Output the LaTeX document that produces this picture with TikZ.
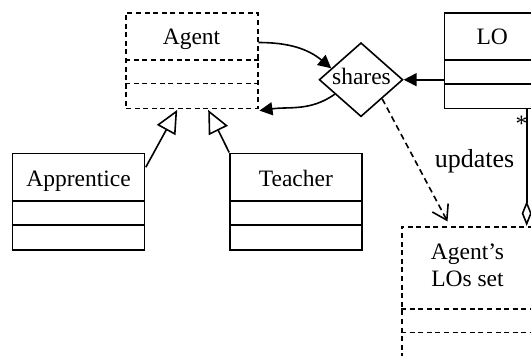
\documentclass[tikz,border=0pt]{standalone}
\usepackage{fontspec}
\setmainfont{Liberation Serif}
\usetikzlibrary{arrows.meta,shapes.geometric,calc}

\begin{document}
\begin{tikzpicture}[x=1pt,y=-1pt,
  font=\fontsize{23.5}{27}\selectfont,
  line width=1.6pt,
  classbox/.style={draw,rectangle,inner sep=0pt},
  dashline/.style={dash pattern=on 5pt off 3.6pt},
  relarrow/.style={-{Triangle[length=13pt,width=13pt]}},
  genarrow/.style={-{Triangle[open,length=23pt,width=21pt]}},
  deparrow/.style={dash pattern=on 6pt off 4pt,-{Straight Barb[length=14pt,width=18pt]}},
  aggarrow/.style={-{Diamond[open,length=25pt,width=10pt]}},
  txt/.style={inner sep=0pt,anchor=base}]
\useasboundingbox (0,0) rectangle (531,356);
\fill[white] (0,0) rectangle (531,356);
\clip (0,0) rectangle (531,356);

% class boxes
\node[classbox,dashline,minimum width=131.7pt,minimum height=95.6pt] (agent) at (191.85,60.5) {};
\node[classbox,minimum width=132pt,minimum height=96.7pt] (appr) at (78.3,201.65) {};
\node[classbox,minimum width=131.7pt,minimum height=96.7pt] (teach) at (295.85,201.65) {};
\node[classbox,minimum width=95.7pt,minimum height=95.6pt] (lo) at (492.15,60.5) {};
\node[classbox,dashline,minimum width=132.3pt,minimum height=133.3pt] (set) at (467.85,293.35) {};
\node[diamond,draw,inner sep=0pt,minimum width=83.7pt,minimum height=74pt] (shares) at (361,79.7) {};

% compartment dividers
\foreach \d in {48,71.6}
  \draw[dashline] ($(agent.north west)+(0,\d)$) -- ($(agent.north east)+(0,\d)$);
\foreach \d in {48.4,72.7} {
  \draw ($(appr.north west)+(0,\d)$) -- ($(appr.north east)+(0,\d)$);
  \draw ($(teach.north west)+(0,\d)$) -- ($(teach.north east)+(0,\d)$);
}
\foreach \d in {48,72.3}
  \draw ($(lo.north west)+(0,\d)$) -- ($(lo.north east)+(0,\d)$);
\foreach \d in {83.3,106.6}
  \draw[dashline] ($(set.north west)+(0,\d)$) -- ($(set.north east)+(0,\d)$);

% names
\node[txt] (agentname) at (191.5,45) {Agent};
\node[txt] (apprname) at (78.5,186) {Apprentice};
\node[txt] (teachname) at (295.85,186) {Teacher};
\node[txt] (loname) at (492.2,45) {LO};
\node[txt] (sharesname) at (361.5,84.3) {shares};
\node[txt,align=center] (setname) at (467.5,286) {Agent’s\\LOs set};
\node[txt,anchor=base west,font=\fontsize{26}{30}\selectfont] (updlabel) at (434,167) {updates};
\node[txt] (mult) at (521.5,131) {*};

% generalisations
\draw[genarrow] ($(appr.north east)+(0.7,14.7)$) -- ($(agent.south west)+(52,0.8)$);
\draw[genarrow] (teach.north west) -- ($(agent.south west)+(83,0.8)$);

% shares relation
\draw[relarrow] (lo.west |- shares.east) -- (shares.east);
\draw[relarrow] ($(agent.north east)+(0,30.6)$) to[out=0,in=140] (shares.159);
\draw[relarrow] (shares.209) to[out=215,in=8] ($(agent.south east)+(1,1.5)$);

% updates dependency
\coordinate (updend) at ($(set.north west)+(46.6,-4.5)$);
\draw[deparrow] (shares.318) -- (updend);

% aggregation
\coordinate (aggx) at (526.7,0);
\draw[aggarrow] (lo.south -| aggx) -- (set.north -| aggx);
\end{tikzpicture}
\end{document}
